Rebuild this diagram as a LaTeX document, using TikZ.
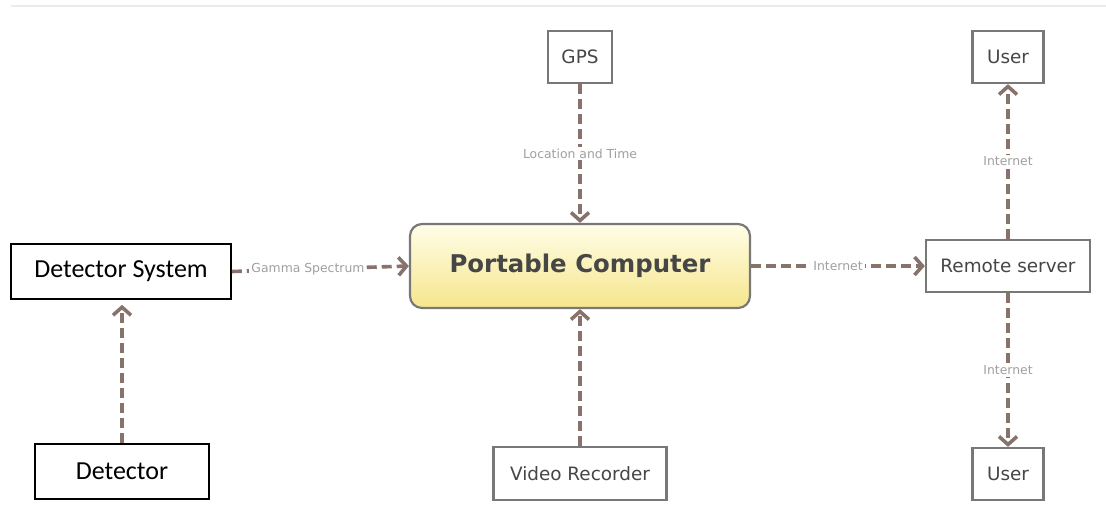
\documentclass[tikz,border=0pt]{standalone}
\usepackage{fontspec}
\usetikzlibrary{arrows.meta}
\newfontfamily\calibrifont{Carlito}
\newfontfamily\grandefont{DejaVu Sans}
\definecolor{flowbrown}{RGB}{135,115,108}
\definecolor{boxgray}{RGB}{120,120,120}
\definecolor{textgray}{RGB}{70,70,70}
\definecolor{labelgray}{RGB}{160,160,160}
\definecolor{pctop}{RGB}{255,253,232}
\definecolor{pcbottom}{RGB}{246,230,140}
\begin{document}
\begin{tikzpicture}[x=0.5pt,y=-0.5pt]
  \tikzstyle{plainbox}=[draw=black,line width=0.8pt,fill=white,inner sep=0pt,font=\calibrifont\fontsize{13}{15}\selectfont]
  \tikzstyle{greybox}=[draw=boxgray,line width=1.1pt,fill=white,inner sep=0pt,text=textgray,font=\grandefont\fontsize{9.2}{11}\selectfont]
  \tikzstyle{flow}=[flowbrown,line width=1.8pt,dash pattern=on 5pt off 2.5pt,-{Straight Barb[length=4pt,width=9pt]}]
  \tikzstyle{flowlabel}=[fill=white,inner sep=1pt,text=labelgray,font=\grandefont\fontsize{6.2}{7}\selectfont]
  \useasboundingbox (0,0) rectangle (1106,521);
  \draw[color={rgb,255:red,235;green,235;blue,235},line width=1pt] (11,6) -- (1106,6);
  % boxes
  \node[plainbox,minimum width=110pt,minimum height=27.5pt] (detsys) at (121,271.5) {Detector System};
  \node[plainbox,minimum width=87pt,minimum height=27.5pt] (det) at (122,471.5) {Detector};
  \node[draw=boxgray,line width=1.1pt,rounded corners=6pt,top color=pctop,bottom color=pcbottom,minimum width=170pt,minimum height=42pt,inner sep=0pt,text=textgray,font=\grandefont\bfseries\fontsize{12.2}{14}\selectfont] (pc) at (580,266) {Portable Computer};
  \node[greybox,minimum width=32pt,minimum height=26pt] (gps) at (580,57) {GPS};
  \node[greybox,minimum width=86.5pt,minimum height=26.5pt] (video) at (580,473.5) {Video Recorder};
  \node[greybox,minimum width=82pt,minimum height=26pt] (server) at (1008,266) {Remote server};
  \node[greybox,minimum width=35.5pt,minimum height=26pt] (usertop) at (1008,57) {User};
  \node[greybox,minimum width=35.5pt,minimum height=26pt] (userbottom) at (1008,474) {User};
  % connectors
  \draw[flow,shorten >=2.5pt] (det.north) -- (det.north |- detsys.south);
  \draw[flow] (detsys.east) -- node[flowlabel,pos=0.43] {Gamma Spectrum} (pc.west);
  \draw[flow] (gps.south) -- node[flowlabel] {Location and Time} (pc.north);
  \draw[flow] (video.north) -- (pc.south);
  \draw[flow] (pc.east) -- node[flowlabel] {Internet} (server.west);
  \draw[flow] (server.north) -- node[flowlabel] {Internet} (usertop.south);
  \draw[flow] (server.south) -- node[flowlabel] {Internet} (userbottom.north);
\end{tikzpicture}
\end{document}
